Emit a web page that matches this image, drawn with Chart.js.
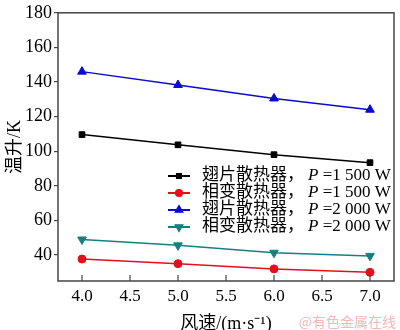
<!DOCTYPE html>
<html>
<head>
<meta charset="utf-8">
<script src="https://cdn.jsdelivr.net/npm/chart.js@4/dist/chart.umd.min.js"></script>
<style>
  html, body { margin: 0; padding: 0; background: #fff; }
  #wrap { width: 400px; height: 330px; }
</style>
</head>
<body>
<div id="wrap"><canvas id="tempChart" width="400" height="330"></canvas></div>
<script>
// data
const windSpeed = [4.0, 5.0, 6.0, 7.0];
const finP1500 = [109.6, 103.7, 98.0, 93.4];
const pcmP1500 = [37.7, 35.0, 32.0, 30.0];
const finP2000 = [146.0, 138.3, 130.5, 124.0];
const pcmP2000 = [49.0, 45.6, 41.3, 39.5];

const xTicks = [4.0, 4.5, 5.0, 5.5, 6.0, 6.5, 7.0];
const yTicks = [40, 60, 80, 100, 120, 140, 160, 180];

const seriesNames = ['翅片散热器，', '相变散热器，', '翅片散热器，', '相变散热器，'];
const powerText = [' =1 500 W', ' =1 500 W', ' =2 000 W', ' =2 000 W'];

const serif = '"Liberation Serif", "Noto Sans CJK SC", serif';

function pts(ys) {
    return windSpeed.map((x, i) => ({ x: x, y: ys[i] }));
}

function makeSet(label, ys, color, style, radius, rot) {
    return {
        label: label,
        data: pts(ys),
        borderColor: color,
        backgroundColor: color,
        borderWidth: 1.5,
        pointStyle: style,
        pointRadius: radius,
        pointRotation: rot || 0,
        pointBorderWidth: 1,
        tension: 0
    };
}

// frame, inside x ticks, legend and watermark
const decor = {
    id: 'decor',
    afterDraw(chart) {
        const c = chart.ctx;
        const a = chart.chartArea;
        const xs = chart.scales.x;
        c.save();
        c.setLineDash([]);
        c.strokeStyle = '#444';
        c.lineWidth = 1.5;
        c.strokeRect(a.left, a.top, a.right - a.left, a.bottom - a.top);

        c.lineWidth = 1.2;
        xTicks.forEach(v => {
            const px = xs.getPixelForValue(v);
            c.beginPath();
            c.moveTo(px, a.bottom);
            c.lineTo(px, a.bottom - 6);
            c.stroke();
        });

        // legend: short line with the marker in the middle
        const lx = 168, tx = 202;
        chart.data.datasets.forEach((ds, i) => {
            const y = 176 + i * 17;
            c.save();
            c.strokeStyle = ds.borderColor;
            c.lineWidth = 2;
            c.beginPath();
            c.moveTo(lx, y);
            c.lineTo(lx + 22, y);
            c.stroke();
            c.restore();
            c.save();
            c.strokeStyle = ds.borderColor;
            c.fillStyle = ds.borderColor;
            Chart.helpers.drawPoint(c, {
                pointStyle: ds.pointStyle,
                rotation: ds.pointRotation,
                radius: ds.pointRadius - 0.5,
                borderWidth: 1
            }, lx + 11, y);
            c.restore();

            c.fillStyle = '#000';
            c.textBaseline = 'middle';
            c.textAlign = 'left';
            c.font = '17px ' + serif;
            c.fillText(seriesNames[i], tx, y);
            let w = c.measureText(seriesNames[i]).width;
            c.font = 'italic 17px ' + serif;
            c.fillText('P', tx + w + 4, y);
            const pw = c.measureText('P').width;
            c.font = '17px ' + serif;
            c.fillText(powerText[i], tx + w + 4 + pw, y);
        });

        c.fillStyle = '#f2b8b8';
        c.font = '14px "Noto Sans CJK SC", sans-serif';
        c.textAlign = 'right';
        c.textBaseline = 'middle';
        c.fillText('@有色金属在线', 396, 322);
        c.restore();
    }
};

const ctx = document.getElementById('tempChart').getContext('2d');

const tempChart = new Chart(ctx, {
    type: 'line',
    data: {
        datasets: [
            makeSet('翅片散热器，P =1 500 W', finP1500, '#000000', 'rect', 4),
            makeSet('相变散热器，P =1 500 W', pcmP1500, '#e3101c', 'circle', 4),
            makeSet('翅片散热器，P =2 000 W', finP2000, '#0a0ad0', 'triangle', 5),
            makeSet('相变散热器，P =2 000 W', pcmP2000, '#177f7f', 'triangle', 5, 180)
        ]
    },
    options: {
        responsive: false,
        animation: false,
        layout: { padding: { top: 6, right: 2, left: 4, bottom: -5 } },
        plugins: {
            legend: { display: false },
            tooltip: { enabled: false }
        },
        scales: {
            x: {
                type: 'linear',
                min: 3.75,
                max: 7.25,
                afterBuildTicks: s => { s.ticks = xTicks.map(v => ({ value: v })); },
                afterFit: s => { s.height = 54; },
                grid: { display: false, drawTicks: false },
                border: { display: false },
                ticks: {
                    padding: 5,
                    color: '#000',
                    font: { family: serif, size: 17 },
                    callback: v => v.toFixed(1)
                },
                title: {
                    display: true,
                    text: '风速/(m·s⁻¹)',
                    color: '#000',
                    font: { family: serif, size: 18 },
                    padding: { top: 7, bottom: 0 }
                }
            },
            y: {
                min: 25,
                max: 180,
                afterBuildTicks: s => { s.ticks = yTicks.map(v => ({ value: v })); },
                afterFit: s => { s.width = 54; },
                grid: { drawOnChartArea: false, drawTicks: true, tickLength: 4, color: '#444', lineWidth: 1.2 },
                border: { display: false },
                ticks: {
                    padding: 2,
                    color: '#000',
                    font: { family: serif, size: 18 }
                },
                title: {
                    display: true,
                    text: '温升/K',
                    color: '#000',
                    font: { family: serif, size: 18 },
                    padding: { top: 0, bottom: 2 }
                }
            }
        }
    },
    plugins: [decor]
});
</script>
</body>
</html>
